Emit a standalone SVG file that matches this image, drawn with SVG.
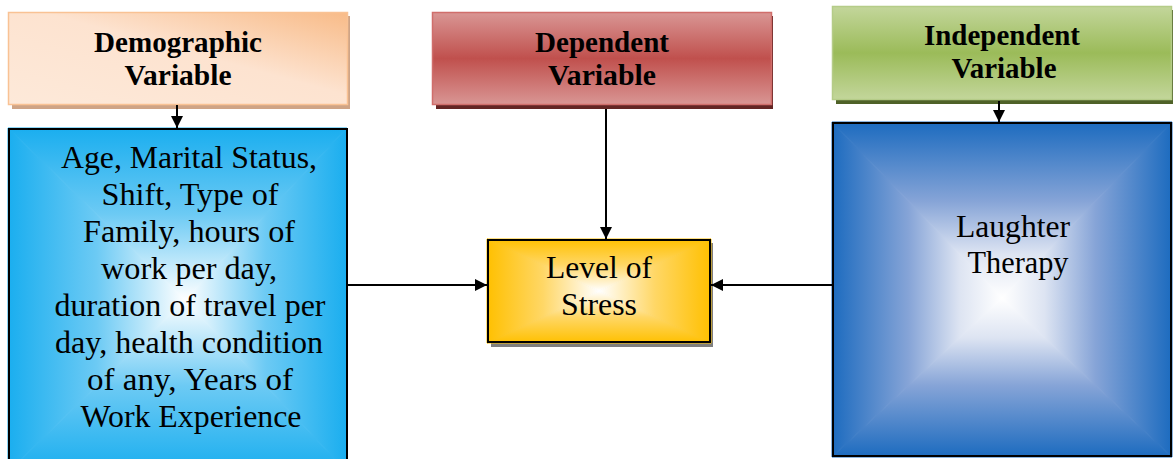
<svg xmlns="http://www.w3.org/2000/svg" width="1173" height="459" viewBox="0 0 1173 459">
<style>
.conn{stroke:#000;stroke-width:2;fill:none}
.box{fill:none;stroke:#000;stroke-width:2}
.hdr{font-family:'Liberation Serif','Times New Roman',serif;font-weight:bold;font-size:29px;text-anchor:middle;fill:#000}
.body{font-family:'Liberation Serif','Times New Roman',serif;font-size:31.5px;text-anchor:middle;fill:#000}
</style>
<defs>
<marker id="ah" viewBox="0 0 12 12" refX="12" refY="6" markerWidth="12" markerHeight="12" markerUnits="userSpaceOnUse" orient="auto">
<path d="M0,0 L12,6 L0,12 Z" fill="#000"/>
</marker>
<linearGradient id="gDemo" x1="0" y1="1" x2="1" y2="0">
<stop offset="0" stop-color="#fde9d9"/>
<stop offset="0.55" stop-color="#fde3d0"/>
<stop offset="1" stop-color="#f8bb88"/>
</linearGradient>
<linearGradient id="gDep" x1="0" y1="0" x2="0" y2="1">
<stop offset="0" stop-color="#d99694"/>
<stop offset="0.5" stop-color="#c0504d"/>
<stop offset="1" stop-color="#d99694"/>
</linearGradient>
<linearGradient id="gInd" x1="0" y1="0" x2="0" y2="1">
<stop offset="0" stop-color="#c3d69b"/>
<stop offset="0.5" stop-color="#9bbb59"/>
<stop offset="1" stop-color="#c3d69b"/>
</linearGradient>
<linearGradient id="cT" gradientUnits="userSpaceOnUse" x1="0" y1="128" x2="0" y2="300"><stop offset="0" stop-color="#1aaeef"/><stop offset="0.5" stop-color="#6ccaf4"/><stop offset="1" stop-color="#ffffff"/></linearGradient>
<linearGradient id="cB" gradientUnits="userSpaceOnUse" x1="0" y1="472" x2="0" y2="300"><stop offset="0" stop-color="#1aaeef"/><stop offset="0.5" stop-color="#6ccaf4"/><stop offset="1" stop-color="#ffffff"/></linearGradient>
<linearGradient id="cL" gradientUnits="userSpaceOnUse" x1="8" y1="0" x2="185" y2="0"><stop offset="0" stop-color="#1aaeef"/><stop offset="0.5" stop-color="#6ccaf4"/><stop offset="1" stop-color="#ffffff"/></linearGradient>
<linearGradient id="cR" gradientUnits="userSpaceOnUse" x1="347" y1="0" x2="185" y2="0"><stop offset="0" stop-color="#1aaeef"/><stop offset="0.5" stop-color="#6ccaf4"/><stop offset="1" stop-color="#ffffff"/></linearGradient>
<linearGradient id="bT" gradientUnits="userSpaceOnUse" x1="0" y1="122" x2="0" y2="298"><stop offset="0" stop-color="#1c6bbf"/><stop offset="0.45" stop-color="#86a4d7"/><stop offset="0.75" stop-color="#dde4f2"/><stop offset="1" stop-color="#ffffff"/></linearGradient>
<linearGradient id="bB" gradientUnits="userSpaceOnUse" x1="0" y1="457" x2="0" y2="298"><stop offset="0" stop-color="#1c6bbf"/><stop offset="0.45" stop-color="#86a4d7"/><stop offset="0.75" stop-color="#dde4f2"/><stop offset="1" stop-color="#ffffff"/></linearGradient>
<linearGradient id="bL" gradientUnits="userSpaceOnUse" x1="832" y1="0" x2="1002" y2="0"><stop offset="0" stop-color="#1c6bbf"/><stop offset="0.45" stop-color="#86a4d7"/><stop offset="0.75" stop-color="#dde4f2"/><stop offset="1" stop-color="#ffffff"/></linearGradient>
<linearGradient id="bR" gradientUnits="userSpaceOnUse" x1="1172" y1="0" x2="1002" y2="0"><stop offset="0" stop-color="#1c6bbf"/><stop offset="0.45" stop-color="#86a4d7"/><stop offset="0.75" stop-color="#dde4f2"/><stop offset="1" stop-color="#ffffff"/></linearGradient>
<linearGradient id="oT" gradientUnits="userSpaceOnUse" x1="0" y1="239" x2="0" y2="291"><stop offset="0" stop-color="#ffc000"/><stop offset="0.5" stop-color="#ffd766"/><stop offset="1" stop-color="#ffffff"/></linearGradient>
<linearGradient id="oB" gradientUnits="userSpaceOnUse" x1="0" y1="343" x2="0" y2="291"><stop offset="0" stop-color="#ffc000"/><stop offset="0.5" stop-color="#ffd766"/><stop offset="1" stop-color="#ffffff"/></linearGradient>
<linearGradient id="oL" gradientUnits="userSpaceOnUse" x1="487" y1="0" x2="599" y2="0"><stop offset="0" stop-color="#ffc000"/><stop offset="0.5" stop-color="#ffd766"/><stop offset="1" stop-color="#ffffff"/></linearGradient>
<linearGradient id="oR" gradientUnits="userSpaceOnUse" x1="711" y1="0" x2="599" y2="0"><stop offset="0" stop-color="#ffc000"/><stop offset="0.5" stop-color="#ffd766"/><stop offset="1" stop-color="#ffffff"/></linearGradient>
</defs>
<rect width="1173" height="459" fill="#fff"/>

<g id="demographic">
<rect x="12" y="16" width="338" height="93" fill="#cfa486"/>
<rect x="8.5" y="12.5" width="339" height="92" fill="url(#gDemo)" stroke="#f9c294" stroke-width="1.5"/>
<text class="hdr" x="178" y="52" textLength="168" lengthAdjust="spacingAndGlyphs">Demographic</text>
<text class="hdr" x="178" y="85" textLength="107" lengthAdjust="spacingAndGlyphs">Variable</text>
</g>

<g id="dependent">
<rect x="436" y="16" width="337" height="93" fill="#632523"/>
<rect x="432.5" y="12.5" width="339" height="92" fill="url(#gDep)" stroke="#d06e6b" stroke-width="1.5"/>
<text class="hdr" x="602" y="52" textLength="134" lengthAdjust="spacingAndGlyphs">Dependent</text>
<text class="hdr" x="602" y="85" textLength="108" lengthAdjust="spacingAndGlyphs">Variable</text>
</g>

<g id="independent">
<rect x="836" y="10" width="337" height="94" fill="#4f6228"/>
<rect x="832.5" y="6.5" width="339" height="93" fill="url(#gInd)" stroke="#b5cc88" stroke-width="1.5"/>
<text class="hdr" x="1002" y="45" textLength="156" lengthAdjust="spacingAndGlyphs">Independent</text>
<text class="hdr" x="1004" y="78" textLength="105" lengthAdjust="spacingAndGlyphs">Variable</text>
</g>

<g id="demographic-factors">
<path d="M8,128 L347,128 L185,300 Z" fill="url(#cT)" stroke="url(#cT)"/>
<path d="M8,472 L347,472 L185,300 Z" fill="url(#cB)" stroke="url(#cB)"/>
<path d="M8,128 L8,472 L185,300 Z" fill="url(#cL)" stroke="url(#cL)"/>
<path d="M347,128 L347,472 L185,300 Z" fill="url(#cR)" stroke="url(#cR)"/>
<rect class="box" x="9" y="129" width="338" height="345"/>
<text class="body" x="189" y="168" textLength="256" lengthAdjust="spacingAndGlyphs">Age, Marital Status,</text>
<text class="body" x="190" y="205" textLength="177" lengthAdjust="spacingAndGlyphs">Shift, Type of</text>
<text class="body" x="189" y="242" textLength="212" lengthAdjust="spacingAndGlyphs">Family, hours of</text>
<text class="body" x="189" y="279" textLength="176" lengthAdjust="spacingAndGlyphs">work per day,</text>
<text class="body" x="190" y="316" textLength="271" lengthAdjust="spacingAndGlyphs">duration of travel per</text>
<text class="body" x="189" y="353" textLength="268" lengthAdjust="spacingAndGlyphs">day, health condition</text>
<text class="body" x="190" y="390" textLength="206" lengthAdjust="spacingAndGlyphs">of any, Years of</text>
<text class="body" x="191" y="427" textLength="221" lengthAdjust="spacingAndGlyphs">Work Experience</text>
</g>

<g id="level-of-stress">
<rect x="491" y="243" width="222" height="104" fill="#7f7f7f"/>
<path d="M487,239 L711,239 L599,291 Z" fill="url(#oT)" stroke="url(#oT)"/>
<path d="M487,343 L711,343 L599,291 Z" fill="url(#oB)" stroke="url(#oB)"/>
<path d="M487,239 L487,343 L599,291 Z" fill="url(#oL)" stroke="url(#oL)"/>
<path d="M711,239 L711,343 L599,291 Z" fill="url(#oR)" stroke="url(#oR)"/>
<rect class="box" x="488" y="240" width="222" height="102"/>
<text class="body" x="599" y="278" textLength="106" lengthAdjust="spacingAndGlyphs">Level of</text>
<text class="body" x="599" y="315" textLength="76" lengthAdjust="spacingAndGlyphs">Stress</text>
</g>

<g id="laughter-therapy">
<path d="M832,122 L1172,122 L1002,298 Z" fill="url(#bT)" stroke="url(#bT)"/>
<path d="M832,457 L1172,457 L1002,298 Z" fill="url(#bB)" stroke="url(#bB)"/>
<path d="M832,122 L832,457 L1002,298 Z" fill="url(#bL)" stroke="url(#bL)"/>
<path d="M1172,122 L1172,457 L1002,298 Z" fill="url(#bR)" stroke="url(#bR)"/>
<rect class="box" x="833" y="123" width="338" height="333"/>
<text class="body" x="1013" y="237" textLength="114" lengthAdjust="spacingAndGlyphs">Laughter</text>
<text class="body" x="1018" y="273" textLength="101" lengthAdjust="spacingAndGlyphs">Therapy</text>
</g>

<g id="connectors">
<line class="conn" x1="177" y1="105" x2="177" y2="128" marker-end="url(#ah)"/>
<line class="conn" x1="999" y1="101" x2="999" y2="122" marker-end="url(#ah)"/>
<line class="conn" x1="606" y1="109" x2="606" y2="239" marker-end="url(#ah)"/>
<line class="conn" x1="348" y1="285" x2="487" y2="285" marker-end="url(#ah)"/>
<line class="conn" x1="832" y1="285" x2="711" y2="285" marker-end="url(#ah)"/>
</g>
</svg>
